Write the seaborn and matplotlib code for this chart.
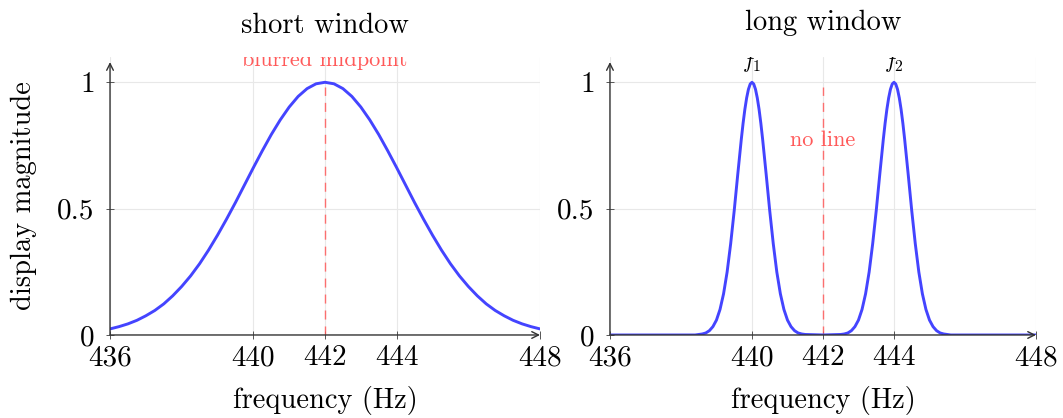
import matplotlib
matplotlib.use("Agg")
import matplotlib.pyplot as plt
import pandas as pd
import seaborn as sns

# short window: one broad lobe around 442 Hz
short_freq = [436.0, 436.25, 436.5, 436.75, 437.0, 437.25, 437.5, 437.75, 438.0, 438.25,
              438.5, 438.75, 439.0, 439.25, 439.5, 439.75, 440.0, 440.25, 440.5, 440.75,
              441.0, 441.25, 441.5, 441.75, 442.0, 442.25, 442.5, 442.75, 443.0, 443.25,
              443.5, 443.75, 444.0, 444.25, 444.5, 444.75, 445.0, 445.25, 445.5, 445.75,
              446.0, 446.25, 446.5, 446.75, 447.0, 447.25, 447.5, 447.75, 448.0]
short_mag = [0.024, 0.033, 0.044, 0.058, 0.076, 0.097, 0.123, 0.155, 0.192, 0.234,
             0.282, 0.336, 0.395, 0.458, 0.524, 0.593, 0.662, 0.729, 0.793, 0.851,
             0.902, 0.944, 0.975, 0.994, 1.000, 0.994, 0.975, 0.944, 0.902, 0.851,
             0.793, 0.729, 0.662, 0.593, 0.524, 0.458, 0.395, 0.336, 0.282, 0.234,
             0.192, 0.155, 0.123, 0.097, 0.076, 0.058, 0.044, 0.033, 0.024]

# long window: two narrow peaks at 440 and 444 Hz
long_freq = [436.0, 438.4,
             438.5, 438.6, 438.7, 438.8, 438.9, 439.0, 439.1, 439.2, 439.3, 439.4,
             439.5, 439.6, 439.7, 439.75, 439.8, 439.85, 439.9, 439.95, 440.0,
             440.05, 440.1, 440.15, 440.2, 440.25, 440.3, 440.4,
             440.5, 440.6, 440.7, 440.8, 440.9, 441.0, 441.1, 441.2, 441.3, 441.4, 441.5,
             442.0,
             442.5, 442.6, 442.7, 442.8, 442.9, 443.0, 443.1, 443.2, 443.3, 443.4,
             443.5, 443.6, 443.7, 443.75, 443.8, 443.85, 443.9, 443.95, 444.0,
             444.05, 444.1, 444.15, 444.2, 444.25, 444.3, 444.4,
             444.5, 444.6, 444.7, 444.8, 444.9, 445.0, 445.1, 445.2, 445.3, 445.4, 445.5,
             445.6, 448.0]
long_mag = [0.0, 0.0,
            0.002, 0.004, 0.008, 0.017, 0.033, 0.059, 0.101, 0.163, 0.249, 0.361,
            0.492, 0.636, 0.775, 0.838, 0.893, 0.938, 0.972, 0.993, 1.000,
            0.993, 0.972, 0.938, 0.893, 0.838, 0.775, 0.636,
            0.492, 0.361, 0.249, 0.163, 0.101, 0.059, 0.033, 0.017, 0.008, 0.004, 0.002,
            0.0,
            0.002, 0.004, 0.008, 0.017, 0.033, 0.059, 0.101, 0.163, 0.249, 0.361,
            0.492, 0.636, 0.775, 0.838, 0.893, 0.938, 0.972, 0.993, 1.000,
            0.993, 0.972, 0.938, 0.893, 0.838, 0.775, 0.636,
            0.492, 0.361, 0.249, 0.163, 0.101, 0.059, 0.033, 0.017, 0.008, 0.004, 0.002,
            0.0, 0.0]

x_ticks = [436, 440, 442, 444, 448]
y_ticks = [0, 0.5, 1]
y_ticklabels = ["0", "0.5", "1"]
midpoint = 442
peaks = [440, 444]
peak_labels = ["$f_1$", "$f_2$"]

sns.set_theme(style="white")
plt.rcParams["font.family"] = ["cmr10", "DejaVu Serif"]
plt.rcParams["mathtext.fontset"] = "cm"
plt.rcParams["axes.formatter.use_mathtext"] = True
plt.rcParams["text.color"] = "black"
plt.rcParams["axes.labelcolor"] = "black"
plt.rcParams["xtick.labelcolor"] = "black"
plt.rcParams["ytick.labelcolor"] = "black"

BLUE = "#4444ff"
RED = "#ff5a5a"
AXIS = "#333333"

fig = plt.figure(figsize=(10.63, 4.18), dpi=100)
ax_l = fig.add_axes([0.1035, 0.1986, 0.4045, 0.665])
ax_r = fig.add_axes([0.5738, 0.1986, 0.4008, 0.665])


def style_axes(ax, title, title_pad):
    ax.set_xlim(436, 448)
    ax.set_ylim(0, 1.1)
    ax.set_xticks(x_ticks)
    ax.set_xticklabels([str(t) for t in x_ticks])
    ax.set_yticks(y_ticks)
    ax.set_yticklabels(y_ticklabels)
    ax.grid(True, color="#e8e8e8", linewidth=0.8)
    for sp in ax.spines.values():
        sp.set_visible(False)
    ax.tick_params(axis="both", direction="inout", length=6, width=0.7,
                   color="#555555", labelcolor="black", labelsize=21,
                   bottom=True, left=True)
    ax.tick_params(axis="x", pad=4)
    ax.tick_params(axis="y", pad=8)
    ax.annotate("", xy=(448, 0), xytext=(436, 0), xycoords="data",
                arrowprops=dict(arrowstyle="->", color=AXIS, lw=1.0,
                                shrinkA=0, shrinkB=0), annotation_clip=False)
    ax.annotate("", xy=(436, 1.08), xytext=(436, 0), xycoords="data",
                arrowprops=dict(arrowstyle="->", color=AXIS, lw=1.0,
                                shrinkA=0, shrinkB=0), annotation_clip=False)
    ax.set_xlabel("frequency (Hz)", fontsize=20.5, color="black")
    ax.xaxis.set_label_coords(0.5, -0.183)
    ax.set_title(title, fontsize=20.5, pad=title_pad, color="black")


short_df = pd.DataFrame({"freq": short_freq, "mag": short_mag})
long_df = pd.DataFrame({"freq": long_freq, "mag": long_mag})

sns.lineplot(data=short_df, x="freq", y="mag", ax=ax_l, color=BLUE, linewidth=2.1,
             zorder=3)
ax_l.vlines(midpoint, 0, 0.98, colors=RED, linestyles=(0, (6.5, 5)), linewidth=1.0,
            zorder=2, alpha=0.85)
ax_l.text(midpoint, 1.063, "blurred midpoint", color=RED, fontsize=16, ha="center",
          va="baseline", clip_on=True)
style_axes(ax_l, "short window", 17)
ax_l.set_ylabel("display magnitude", fontsize=20.5, color="black")
ax_l.yaxis.set_label_coords(-0.17, 0.5)

sns.lineplot(data=long_df, x="freq", y="mag", ax=ax_r, color=BLUE, linewidth=2.1,
             zorder=3)
ax_r.vlines(midpoint, 0, 0.98, colors=RED, linestyles=(0, (6.5, 5)), linewidth=1.0,
            zorder=2, alpha=0.85)
ax_r.text(midpoint, 0.747, "no line", color=RED, fontsize=16, ha="center",
          va="baseline")
for p, lab in zip(peaks, peak_labels):
    ax_r.text(p, 1.055, lab, color="black", fontsize=16, ha="center", va="baseline",
              clip_on=True)
style_axes(ax_r, "long window", 19.5)
ax_r.set_ylabel("")

fig.savefig("out.png", dpi=100)
